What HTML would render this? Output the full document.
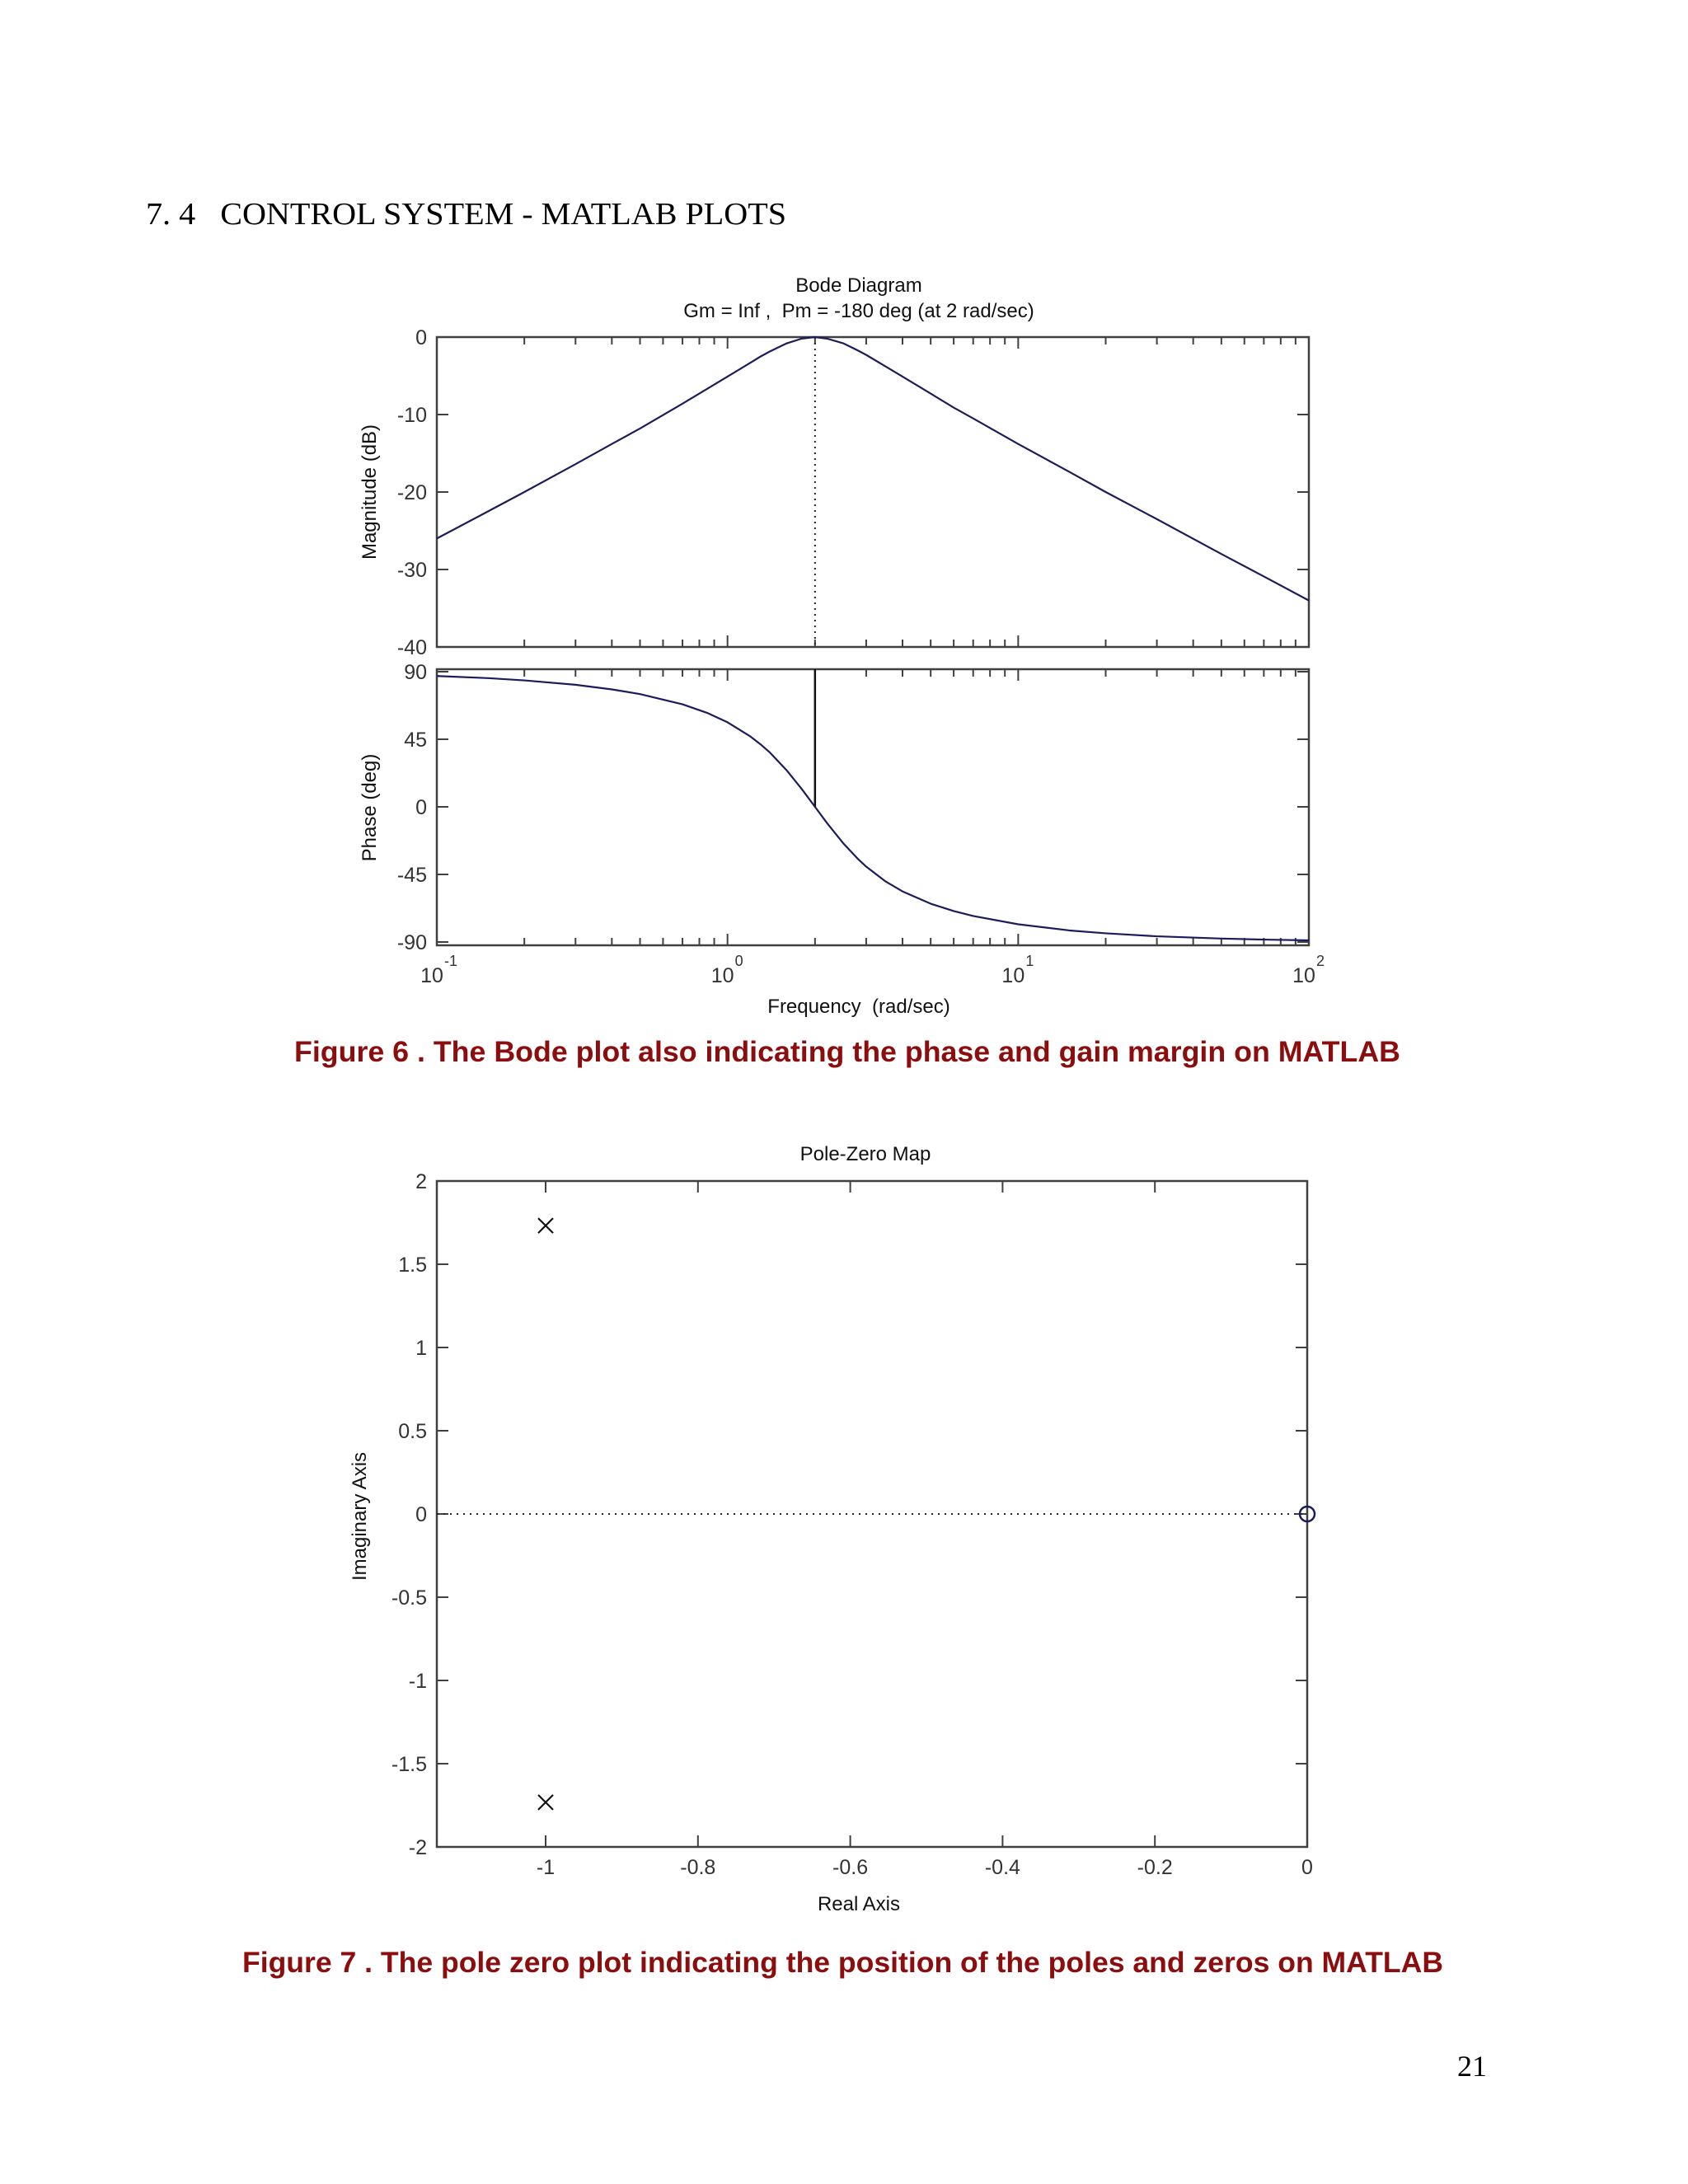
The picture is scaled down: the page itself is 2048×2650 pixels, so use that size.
<!DOCTYPE html>
<html><head><meta charset="utf-8">
<style>
html,body{margin:0;padding:0;background:#fff;}
svg{display:block;}
text{white-space:pre;}
</style></head>
<body>
<svg id="page" width="2048" height="2650" viewBox="0 0 2048 2650" xmlns="http://www.w3.org/2000/svg" font-family="Liberation Sans, sans-serif">
<rect width="2048" height="2650" fill="#fff"/>
<text x="177" y="272" font-family="Liberation Serif, serif" font-size="38" textLength="777" lengthAdjust="spacingAndGlyphs" fill="#000" xml:space="preserve">7. 4   CONTROL SYSTEM - MATLAB PLOTS</text>
<g id="bode"></g>
<g id="pz"></g>
<text x="357" y="1288" font-size="35" font-weight="bold" fill="#8b0d0d" textLength="1342" lengthAdjust="spacingAndGlyphs">Figure 6 . The Bode plot also indicating the phase and gain margin on MATLAB</text>
<text x="294" y="2393" font-size="35" font-weight="bold" fill="#8b0d0d" textLength="1457" lengthAdjust="spacingAndGlyphs">Figure 7 . The pole zero plot indicating the position of the poles and zeros on MATLAB</text>
<text x="1786" y="2519" text-anchor="middle" font-family="Liberation Serif, serif" font-size="36" fill="#000">21</text>
</svg>
<script>
const freqs = [0.1,0.15,0.2,0.3,0.4,0.5,0.7,0.85,1,1.2,1.3,1.4,1.6,1.8,2,2.2,2.5,2.8,3,3.5,4,5,6,7,10,15,20,30,50,70,100];
const magDb = [-26.0,-22.5,-20.0,-16.4,-13.8,-11.8,-8.6,-6.7,-5.1,-3.3,-2.5,-1.85,-0.8,-0.2,0,-0.2,-0.8,-1.7,-2.3,-3.8,-5.1,-7.3,-9.1,-10.5,-13.8,-17.4,-20.0,-23.5,-28.0,-30.9,-34.0];
const phaseDeg = [87.1,85.7,84.2,81.3,78.2,75.1,68.3,62.6,56.3,46.8,41.6,36.1,24.2,11.9,0,-10.8,-24.2,-34.4,-39.8,-49.7,-56.3,-64.5,-69.4,-72.7,-78.2,-82.3,-84.2,-86.2,-87.7,-88.4,-88.9];
const magTicks = [0,-10,-20,-30,-40];
const phaseTicks = [90,45,0,-45,-90];
const decadeExps = [-1,0,1,2];
const crossoverFreq = 2;
const poleRe = [-1,-1];
const poleIm = [1.732,-1.732];
const zeroRe = [0];
const zeroIm = [0];
const pzXTicks = [-1,-0.8,-0.6,-0.4,-0.2,0];
const pzXTickLabels = ['-1','-0.8','-0.6','-0.4','-0.2','0'];
const pzYTicks = [2,1.5,1,0.5,0,-0.5,-1,-1.5,-2];
const pzYTickLabels = ['2','1.5','1','0.5','0','-0.5','-1','-1.5','-2'];

const NS='http://www.w3.org/2000/svg';
function mk(parent,tag,attrs,text){const e=document.createElementNS(NS,tag);for(const k in attrs)e.setAttribute(k,attrs[k]);if(text!==undefined)e.textContent=text;parent.appendChild(e);return e;}
const AX='#404040', LINE='#1c1c5c', LBL='#333';

const bx0=530,bx1=1588;
const fx=w=>bx0+(Math.log10(w)+1)/3*(bx1-bx0);
const mTop=409,mBot=785;
const my=v=>mTop+(0-v)/40*(mBot-mTop);
const pTop=812,pBot=1147;
const p90=815,pm90=1143;
const py=v=>p90+(90-v)/180*(pm90-p90);
const bode=document.getElementById('bode');

let t=mk(bode,'text',{x:1042,y:354,'text-anchor':'middle','font-size':24,fill:'#111'},'Bode Diagram');


t=mk(bode,'text',{x:1042,y:385,'text-anchor':'middle','font-size':24,fill:'#111'},'Gm = Inf ,  Pm = -180 deg (at 2 rad/sec)');



function logTicks(g,top,bot){
  for(let d=-1;d<2;d++){for(let m=1;m<=9;m++){const w=m*Math.pow(10,d);const x=fx(w);const L=m===1?14:9;
    const a=mk(g,'line',{x1:x,y1:top,x2:x,y2:top+L,stroke:AX,'stroke-width':2});
    
    
    const b=mk(g,'line',{x1:x,y1:bot,x2:x,y2:bot-L,stroke:AX,'stroke-width':2});
    
    }}
}
function box(g,x0,y0,x1,y1,name){const r=mk(g,'rect',{x:x0,y:y0,width:x1-x0,height:y1-y0,fill:'none',stroke:AX,'stroke-width':2.5});
  
  }

const mg=mk(bode,'g',{});


box(mg,bx0,mTop,bx1,mBot,'magnitude-axes');
logTicks(mg,mTop,mBot);
magTicks.forEach(v=>{const y=my(v);
  const a=mk(mg,'line',{x1:bx0,y1:y,x2:bx0+14,y2:y,stroke:AX,'stroke-width':2});
  
  
  const b=mk(mg,'line',{x1:bx1,y1:y,x2:bx1-14,y2:y,stroke:AX,'stroke-width':2});
  
  
  const l=mk(mg,'text',{x:518,y:y+9,'text-anchor':'end','font-size':25,fill:LBL},String(v));
  
  });
let vl=mk(mg,'line',{x1:fx(crossoverFreq),y1:mTop,x2:fx(crossoverFreq),y2:mBot,stroke:'#222','stroke-width':2,'stroke-dasharray':'2 5'});


let mp=mk(mg,'polyline',{points:freqs.map((w,i)=>fx(w)+','+my(magDb[i])).join(' '),fill:'none',stroke:LINE,'stroke-width':2.2,'stroke-linejoin':'round'});


t=mk(mg,'text',{x:0,y:0,'text-anchor':'middle','font-size':24,fill:'#111',transform:'translate(456,597) rotate(-90)'},'Magnitude (dB)');



const pg=mk(bode,'g',{});


box(pg,bx0,pTop,bx1,pBot,'phase-axes');
logTicks(pg,pTop,pBot);
phaseTicks.forEach(v=>{const y=py(v);
  const a=mk(pg,'line',{x1:bx0,y1:y,x2:bx0+14,y2:y,stroke:AX,'stroke-width':2});
  
  
  const b=mk(pg,'line',{x1:bx1,y1:y,x2:bx1-14,y2:y,stroke:AX,'stroke-width':2});
  
  
  const l=mk(pg,'text',{x:518,y:y+9,'text-anchor':'end','font-size':25,fill:LBL},String(v));
  
  });
vl=mk(pg,'line',{x1:fx(crossoverFreq),y1:pTop,x2:fx(crossoverFreq),y2:py(0),stroke:'#111','stroke-width':2.5});


let pp=mk(pg,'polyline',{points:freqs.map((w,i)=>fx(w)+','+py(phaseDeg[i])).join(' '),fill:'none',stroke:LINE,'stroke-width':2.2,'stroke-linejoin':'round'});


t=mk(pg,'text',{x:0,y:0,'text-anchor':'middle','font-size':24,fill:'#111',transform:'translate(456,980) rotate(-90)'},'Phase (deg)');


decadeExps.forEach(e=>{const x=fx(Math.pow(10,e));
  const l=mk(pg,'text',{x:x-6,y:1192,'text-anchor':'middle','font-size':25,fill:LBL},'10');
  
  
  const s=mk(pg,'text',{x:x+9,y:1172,'text-anchor':'start','font-size':18,fill:LBL},String(e));
  
  });
t=mk(pg,'text',{x:1042,y:1229,'text-anchor':'middle','font-size':24,fill:'#111'},'Frequency  (rad/sec)');



const pz=document.getElementById('pz');
const zx0=530,zx1=1586,zy0=1433,zy1=2241;
const xMin=-8/7,xMax=0;
const zx=v=>zx0+(v-xMin)/(xMax-xMin)*(zx1-zx0);
const zy=v=>zy0+(2-v)/4*(zy1-zy0);
box(pz,zx0,zy0,zx1,zy1,'pole-zero-axes');
t=mk(pz,'text',{x:1050,y:1408,'text-anchor':'middle','font-size':24,fill:'#111'},'Pole-Zero Map');


pzXTicks.forEach((v,i)=>{const x=zx(v);
  const a=mk(pz,'line',{x1:x,y1:zy0,x2:x,y2:zy0+14,stroke:AX,'stroke-width':2});
  
  
  const b=mk(pz,'line',{x1:x,y1:zy1,x2:x,y2:zy1-14,stroke:AX,'stroke-width':2});
  
  
  const l=mk(pz,'text',{x:x,y:2274,'text-anchor':'middle','font-size':25,fill:LBL},pzXTickLabels[i]);
  
  });
pzYTicks.forEach((v,i)=>{const y=zy(v);
  const a=mk(pz,'line',{x1:zx0,y1:y,x2:zx0+14,y2:y,stroke:AX,'stroke-width':2});
  
  
  const b=mk(pz,'line',{x1:zx1,y1:y,x2:zx1-14,y2:y,stroke:AX,'stroke-width':2});
  
  
  const l=mk(pz,'text',{x:518,y:y+9,'text-anchor':'end','font-size':25,fill:LBL},pzYTickLabels[i]);
  
  });
let dl=mk(pz,'line',{x1:zx0,y1:zy(0),x2:zx1,y2:zy(0),stroke:'#222','stroke-width':2,'stroke-dasharray':'2 6'});


poleRe.forEach((r,i)=>{const x=zx(r),y=zy(poleIm[i]),s=9;
  const g=mk(pz,'path',{d:`M${x-s},${y-s}L${x+s},${y+s}M${x-s},${y+s}L${x+s},${y-s}`,stroke:'#111','stroke-width':2.2,fill:'none'});
  
  });
zeroRe.forEach((r,i)=>{const x=zx(r),y=zy(zeroIm[i]);
  const c=mk(pz,'circle',{cx:x,cy:y,r:9,fill:'none',stroke:LINE,'stroke-width':2.5});
  
  });
t=mk(pz,'text',{x:1042,y:2318,'text-anchor':'middle','font-size':24,fill:'#111'},'Real Axis');


t=mk(pz,'text',{x:0,y:0,'text-anchor':'middle','font-size':24,fill:'#111',transform:'translate(444,1840) rotate(-90)'},'Imaginary Axis');


</script>
</body></html>
